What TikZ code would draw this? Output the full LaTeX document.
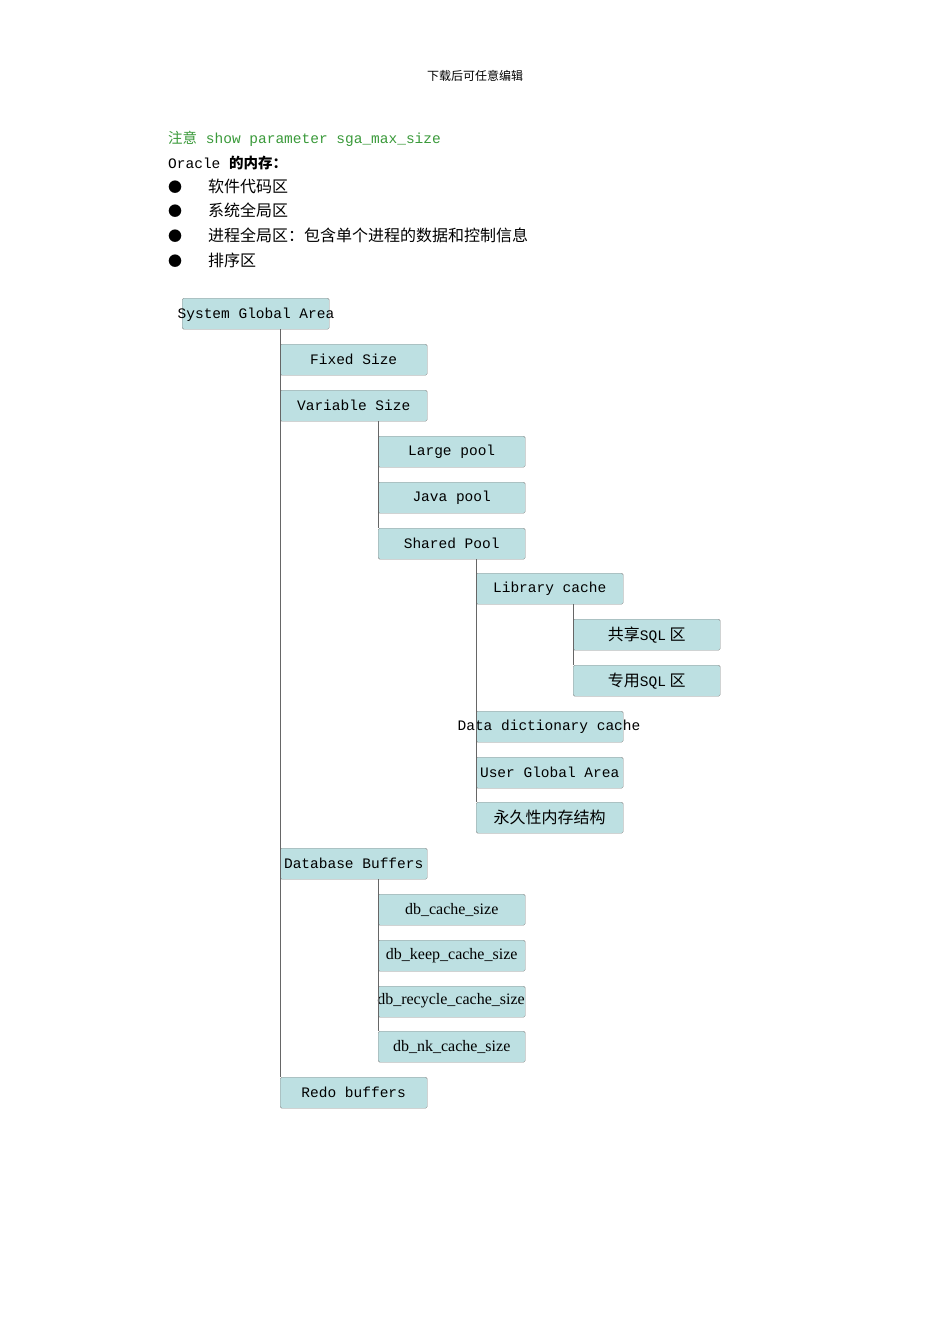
\documentclass[tikz,border=0pt]{standalone}
\usepackage{fontspec}
\setmainfont{Liberation Serif}
\setmonofont{Liberation Mono}
\newfontfamily\cjk{Noto Sans CJK SC}
\begin{document}
\begin{tikzpicture}[x=1pt,y=-1pt,
  bx/.style={draw=black!45,fill=boxc,rounded corners=1.5pt,minimum width=147pt,minimum height=31pt,inner sep=0pt,font=\fontsize{14.5}{16}\ttfamily},
  bxs/.style={bx,font=\fontsize{16}{18}\selectfont},
  bxc/.style={bx,font=\fontsize{16}{18}\cjk},
  ln/.style={draw=black!60,line width=0.6pt},
  txt/.style={anchor=base west,inner sep=0pt,font=\fontsize{14.5}{16}\ttfamily}]
\definecolor{boxc}{HTML}{BDE0E2}
\definecolor{grn}{HTML}{3A9A3A}
\useasboundingbox (0,0) rectangle (950,1344);
\fill[white] (0,0) rectangle (950,1344);
\node[anchor=base,font=\fontsize{12}{14}\cjk] (hdr) at (475,80) {下载后可任意编辑};
\node[txt,text=grn] (t1) at (168,143) {{\cjk 注意} show parameter sga\_max\_size};
\node[txt] (t2) at (168,168) {Oracle {\cjk\bfseries 的内存：}};
\foreach \i/\t in {0/软件代码区,1/系统全局区,2/进程全局区：包含单个进程的数据和控制信息,3/排序区}{
  \node[anchor=base,inner sep=0pt,font=\fontsize{14}{16}\cjk] (b\i) at (175,{192+24.8*\i}) {●};
  \node[anchor=base west,inner sep=0pt,font=\fontsize{16}{18}\cjk] (l\i) at (208,{192+24.8*\i}) {\t};
}
% boxes (anchor north west)
\node[bx,anchor=north west] (sga) at (182,298) {};
\node[anchor=center,inner sep=0pt,font=\fontsize{14.5}{16}\ttfamily] (sgat) at (256,315) {System Global Area};
\node[bx,anchor=north west] (fix) at (280,344) {Fixed Size};
\node[bx,anchor=north west] (var) at (280,390) {Variable Size};
\node[bx,anchor=north west] (lp) at (378,436) {Large pool};
\node[bx,anchor=north west] (jp) at (378,482) {Java pool};
\node[bx,anchor=north west] (sp) at (378,528) {Shared Pool};
\node[bx,anchor=north west] (lc) at (476,573) {Library cache};
\node[bxc,anchor=north west] (s1) at (573,619) {共享{\fontsize{14.5}{16}\ttfamily SQL} 区};
\node[bxc,anchor=north west] (s2) at (573,665) {专用{\fontsize{14.5}{16}\ttfamily SQL} 区};
\node[bx,anchor=north west] (dd) at (476,711) {};
\node[anchor=center,inner sep=0pt,font=\fontsize{14.5}{16}\ttfamily] (ddt) at (549,727) {Data dictionary cache};
\node[bx,anchor=north west] (uga) at (476,757) {User Global Area};
\node[bxc,anchor=north west] (perm) at (476,802) {永久性内存结构};
\node[bx,anchor=north west] (dbb) at (280,848) {Database Buffers};
\node[bxs,anchor=north west] (d1) at (378,894) {db\_cache\_size};
\node[bxs,anchor=north west] (d2) at (378,940) {db\_keep\_cache\_size};
\node[bxs,anchor=north west] (d3) at (378,986) {};
\node[anchor=center,inner sep=0pt,font=\fontsize{16}{18}\selectfont] (d3t) at (451,1001) {db\_recycle\_cache\_size};
\node[bxs,anchor=north west] (d4) at (378,1031) {db\_nk\_cache\_size};
\node[bx,anchor=north west] (redo) at (280,1077) {Redo buffers};
% connectors
\draw[ln] (fix.north west |- sga.south) -- (redo.north west);
\draw[ln] (lp.north west |- var.south) -- (sp.north west);
\draw[ln] (lc.north west |- sp.south) -- (perm.north west);
\draw[ln] (s1.north west |- lc.south) -- (s2.north west);
\draw[ln] (d1.north west |- dbb.south) -- (d4.north west);
\end{tikzpicture}
\end{document}
